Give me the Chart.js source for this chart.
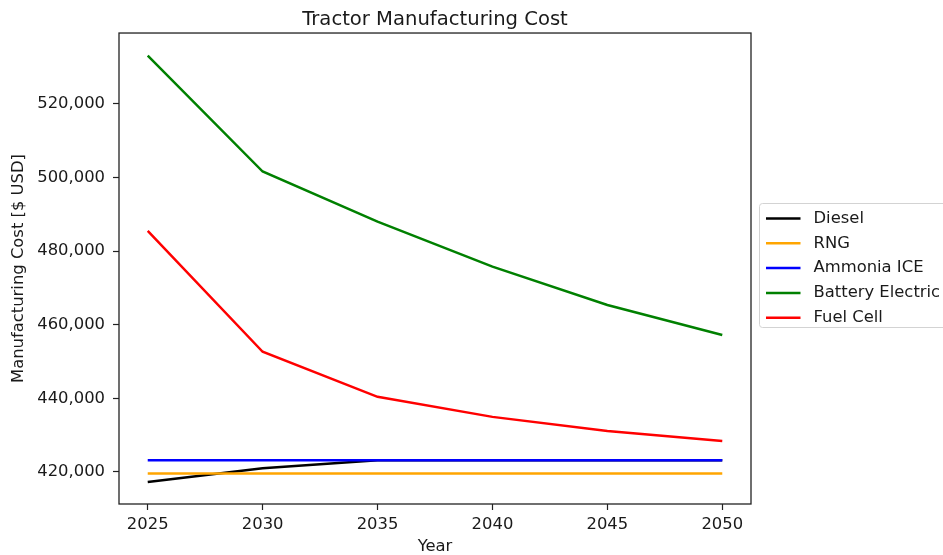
<!DOCTYPE html>
<html>
<head>
<meta charset="utf-8">
<title>Tractor Manufacturing Cost</title>
<script src="https://cdn.jsdelivr.net/npm/chart.js@4/dist/chart.umd.min.js"></script>
<style>
  html, body { margin: 0; padding: 0; background: #ffffff; }
  #wrap { width: 943px; height: 555px; position: relative; }
</style>
</head>
<body>
<div id="wrap"><canvas id="chart" width="943" height="555"></canvas></div>
<script>
// Model years
const years = [2025, 2030, 2035, 2040, 2045, 2050];

// Tractor manufacturing cost per powertrain, $ USD
const diesel          = [417280, 421000, 423180, 423180, 423180, 423180];
const rng             = [419560, 419560, 419560, 419560, 419560, 419560];
const ammoniaIce      = [423180, 423180, 423180, 423180, 423180, 423180];
const batteryElectric = [533050, 501590, 487990, 475750, 465340, 457180];
const fuelCell        = [485460, 452640, 440400, 434960, 431150, 428430];

// Axis ticks
const xTicks = [2025, 2030, 2035, 2040, 2045, 2050];
const yTicks = [420000, 440000, 460000, 480000, 500000, 520000];

const FONT = 'DejaVu Sans';
const TXT = '#1a1a1a';

function toPoints(values) {
  return years.map((y, i) => ({ x: y, y: values[i] }));
}

function series(label, values, color, order) {
  return {
    label: label,
    data: toPoints(values),
    borderColor: color,
    backgroundColor: color,
    borderWidth: 2.5,
    pointRadius: 0,
    tension: 0,
    fill: false,
    order: order
  };
}

// Plot frame (four spines) drawn over the lines
const framePlugin = {
  id: 'frame',
  afterDatasetsDraw(chart) {
    const { ctx, chartArea: a } = chart;
    ctx.save();
    ctx.strokeStyle = '#222';
    ctx.lineWidth = 1.3;
    ctx.strokeRect(a.left, a.top, a.right - a.left, a.bottom - a.top);
    ctx.restore();
  }
};

// Legend box placed outside the plot on the right
const sideLegend = {
  id: 'sideLegend',
  afterDraw(chart) {
    const { ctx, chartArea: a } = chart;
    const sets = chart.data.datasets;
    const rowH = 24.8;
    const x0 = a.right + 8.5;
    const top = 203.5;
    const h = 124;
    const w = 200;
    ctx.save();
    ctx.beginPath();
    const r = 3;
    ctx.moveTo(x0 + r, top);
    ctx.lineTo(x0 + w - r, top);
    ctx.arcTo(x0 + w, top, x0 + w, top + r, r);
    ctx.lineTo(x0 + w, top + h - r);
    ctx.arcTo(x0 + w, top + h, x0 + w - r, top + h, r);
    ctx.lineTo(x0 + r, top + h);
    ctx.arcTo(x0, top + h, x0, top + h - r, r);
    ctx.lineTo(x0, top + r);
    ctx.arcTo(x0, top, x0 + r, top, r);
    ctx.closePath();
    ctx.fillStyle = 'rgba(255,255,255,0.8)';
    ctx.fill();
    ctx.strokeStyle = '#d3d3d3';
    ctx.lineWidth = 1;
    ctx.stroke();

    ctx.font = '16.4px "' + FONT + '"';
    ctx.textBaseline = 'middle';
    ctx.textAlign = 'left';
    sets.forEach((ds, i) => {
      const y = top + 15 + i * rowH;
      ctx.strokeStyle = ds.borderColor;
      ctx.lineWidth = 2.5;
      ctx.beginPath();
      ctx.moveTo(x0 + 6.5, y);
      ctx.lineTo(x0 + 41, y);
      ctx.stroke();
      ctx.fillStyle = TXT;
      ctx.fillText(ds.label, x0 + 54, y);
    });
    ctx.restore();
  }
};

new Chart(document.getElementById('chart'), {
  type: 'line',
  data: {
    datasets: [
      series('Diesel', diesel, '#000000', 4),
      series('RNG', rng, '#FFA500', 3),
      series('Ammonia ICE', ammoniaIce, '#0000FF', 2),
      series('Battery Electric', batteryElectric, '#008000', 1),
      series('Fuel Cell', fuelCell, '#FF0000', 0)
    ]
  },
  options: {
    responsive: false,
    animation: false,
    devicePixelRatio: 1,
    layout: { padding: { left: 0, right: 192, top: 0, bottom: 0 } },
    plugins: {
      legend: { display: false },
      tooltip: { enabled: false },
      title: {
        display: true,
        text: 'Tractor Manufacturing Cost',
        fullSize: false,
        color: TXT,
        font: { family: FONT, size: 19.6, weight: 'normal', lineHeight: 1.2 },
        padding: { top: 8.5, bottom: 1 }
      }
    },
    scales: {
      x: {
        type: 'linear',
        min: 2023.75,
        max: 2051.25,
        afterBuildTicks(scale) { scale.ticks = xTicks.map(v => ({ value: v })); },
        afterFit(scale) { scale.height = 51; },
        ticks: {
          color: TXT,
          padding: 5,
          maxRotation: 0,
          font: { family: FONT, size: 16.4 },
          callback: v => String(v)
        },
        grid: {
          drawOnChartArea: false,
          drawTicks: true,
          tickLength: 6,
          tickColor: '#222',
          tickWidth: 1.2
        },
        border: { display: false },
        title: {
          display: true,
          text: 'Year',
          color: TXT,
          font: { family: FONT, size: 16.4, lineHeight: 1.0 },
          padding: { top: 0, bottom: 0 }
        }
      },
      y: {
        type: 'linear',
        min: 411300,
        max: 539200,
        afterBuildTicks(scale) { scale.ticks = yTicks.map(v => ({ value: v })); },
        afterFit(scale) { scale.width = 119; },
        ticks: {
          color: TXT,
          padding: 8,
          font: { family: FONT, size: 16.4 },
          callback: v => Number(v).toLocaleString('en-US')
        },
        grid: {
          drawOnChartArea: false,
          drawTicks: true,
          tickLength: 6,
          tickColor: '#222',
          tickWidth: 1.2
        },
        border: { display: false },
        title: {
          display: true,
          text: 'Manufacturing Cost [$ USD]',
          color: TXT,
          font: { family: FONT, size: 16.4, lineHeight: 1.2 },
          padding: { top: 9, bottom: 0 }
        }
      }
    }
  },
  plugins: [framePlugin, sideLegend]
});
</script>
</body>
</html>
